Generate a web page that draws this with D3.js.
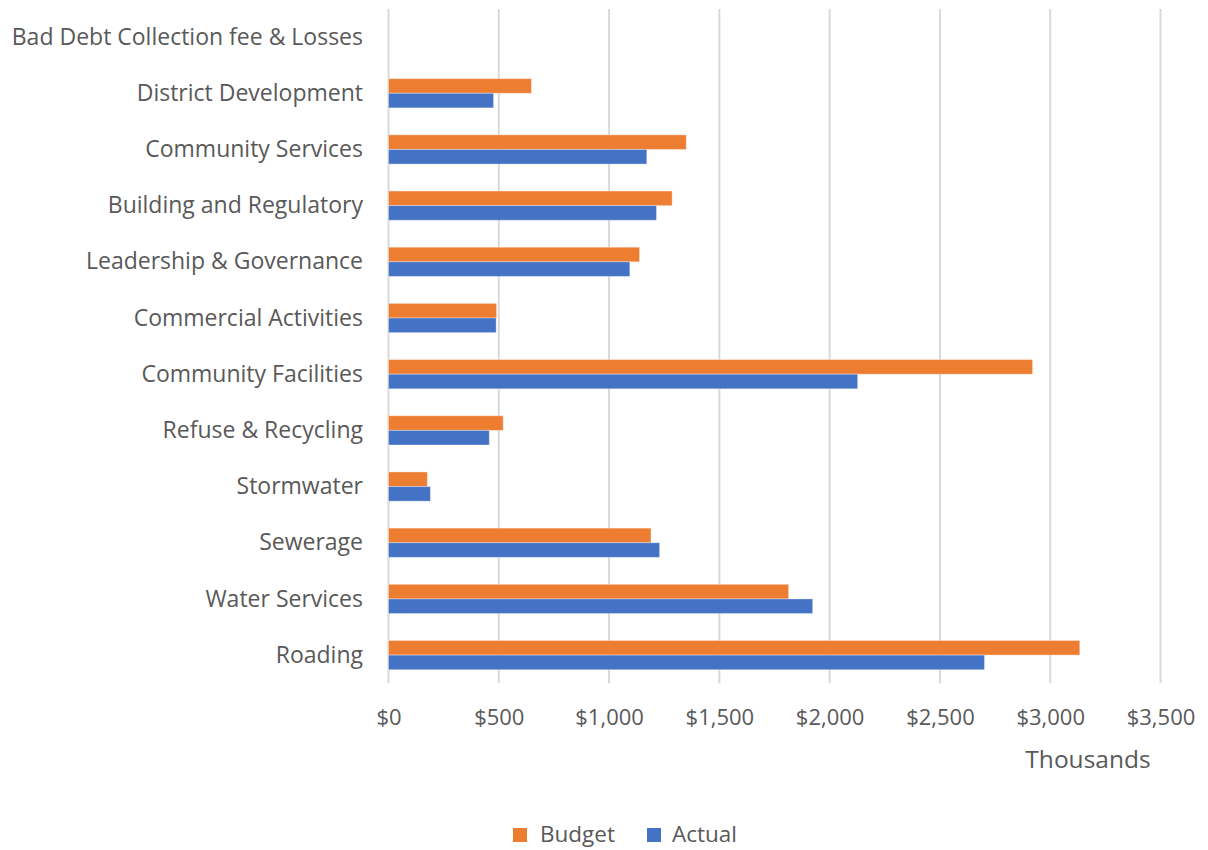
<!DOCTYPE html>
<html>
<head>
<meta charset="utf-8">
<script src="https://cdn.jsdelivr.net/npm/d3@7"></script>
<style>
  html, body { margin: 0; padding: 0; background: #ffffff; }
  svg { display: block; }
  text { font-family: "Open Sans", "Noto Sans", sans-serif; fill: #595959; }
</style>
</head>
<body>
<svg id="chart" width="1208" height="850"></svg>
<script>
// Operating expenditure by activity, in thousands of dollars
const categories = [
  "Bad Debt Collection fee & Losses",
  "District Development",
  "Community Services",
  "Building and Regulatory",
  "Leadership & Governance",
  "Commercial Activities",
  "Community Facilities",
  "Refuse & Recycling",
  "Stormwater",
  "Sewerage",
  "Water Services",
  "Roading"
];
const budget = [0, 648, 1350, 1286, 1138, 490, 2920, 520, 176, 1190, 1814, 3134];
const actual = [0, 476, 1171, 1215, 1094, 488, 2127, 457, 190, 1229, 1923, 2702];
const seriesNames = ["Budget", "Actual"];
const seriesColors = ["#ED7D31", "#4472C4"];
const tickValues = [0, 500, 1000, 1500, 2000, 2500, 3000, 3500];

const svg = d3.select("#chart");
const plot = { left: 388.5, right: 1160.5, top: 9, bottom: 683.2 };

const x = d3.scaleLinear().domain([0, 3500]).range([plot.left, plot.right]);
const y = d3.scaleBand().domain(categories).range([plot.top, plot.bottom])
  .paddingInner(0.48).paddingOuter(0.24);
const sub = d3.scaleBand().domain(seriesNames).range([0, y.bandwidth()]);
const color = d3.scaleOrdinal().domain(seriesNames).range(seriesColors);

const rows = categories.map((c, i) => ({ category: c, Budget: budget[i], Actual: actual[i] }));

// vertical gridlines
svg.append("g")
  .selectAll("line")
  .data(tickValues)
  .join("line")
  .attr("x1", d => x(d)).attr("x2", d => x(d))
  .attr("y1", plot.top).attr("y2", plot.bottom)
  .attr("stroke", "#d9d9d9")
  .attr("stroke-width", 2);

// bars
svg.append("g")
  .selectAll("g")
  .data(rows)
  .join("g")
  .attr("transform", d => `translate(0,${y(d.category)})`)
  .selectAll("rect")
  .data(d => seriesNames.map(s => ({ key: s, value: d[s] })).filter(d => d.value > 0))
  .join("rect")
  .attr("x", x(0))
  .attr("y", d => sub(d.key))
  .attr("width", d => x(d.value) - x(0))
  .attr("height", sub.bandwidth())
  .attr("fill", d => color(d.key))
  .attr("stroke", "#ffffff")
  .attr("stroke-opacity", 0.35)
  .attr("stroke-width", 1);

// category axis labels
svg.append("g")
  .selectAll("text")
  .data(categories)
  .join("text")
  .attr("x", 363)
  .attr("y", d => y(d) + y.bandwidth() / 2)
  .attr("dy", "0.33em")
  .attr("text-anchor", "end")
  .attr("font-size", 23)
  .text(d => d);

// value axis labels
const xAxis = d3.axisBottom(x)
  .tickValues(tickValues)
  .tickSize(0)
  .tickPadding(0)
  .tickFormat(d => "$" + d3.format(",")(d));
const gx = svg.append("g")
  .attr("transform", `translate(0,${plot.bottom})`)
  .call(xAxis);
gx.select(".domain").remove();
gx.selectAll("text")
  .attr("y", 42)
  .attr("dy", 0)
  .attr("font-size", 22)
  .attr("fill", "#595959")
  .style("font-family", '"Open Sans", "Noto Sans", sans-serif');

// display units label
svg.append("text")
  .attr("x", 1088)
  .attr("y", 768)
  .attr("text-anchor", "middle")
  .attr("font-size", 24.5)
  .text("Thousands");

// legend
const legendItems = [
  { name: "Budget", sx: 513, tx: 540 },
  { name: "Actual", sx: 647, tx: 672 }
];
const legend = svg.append("g");
legend.selectAll("rect")
  .data(legendItems)
  .join("rect")
  .attr("x", d => d.sx)
  .attr("y", 828)
  .attr("width", 14)
  .attr("height", 14)
  .attr("fill", d => color(d.name));
legend.selectAll("text")
  .data(legendItems)
  .join("text")
  .attr("x", d => d.tx)
  .attr("y", 842)
  .attr("font-size", 22.5)
  .text(d => d.name);
</script>
</body>
</html>
